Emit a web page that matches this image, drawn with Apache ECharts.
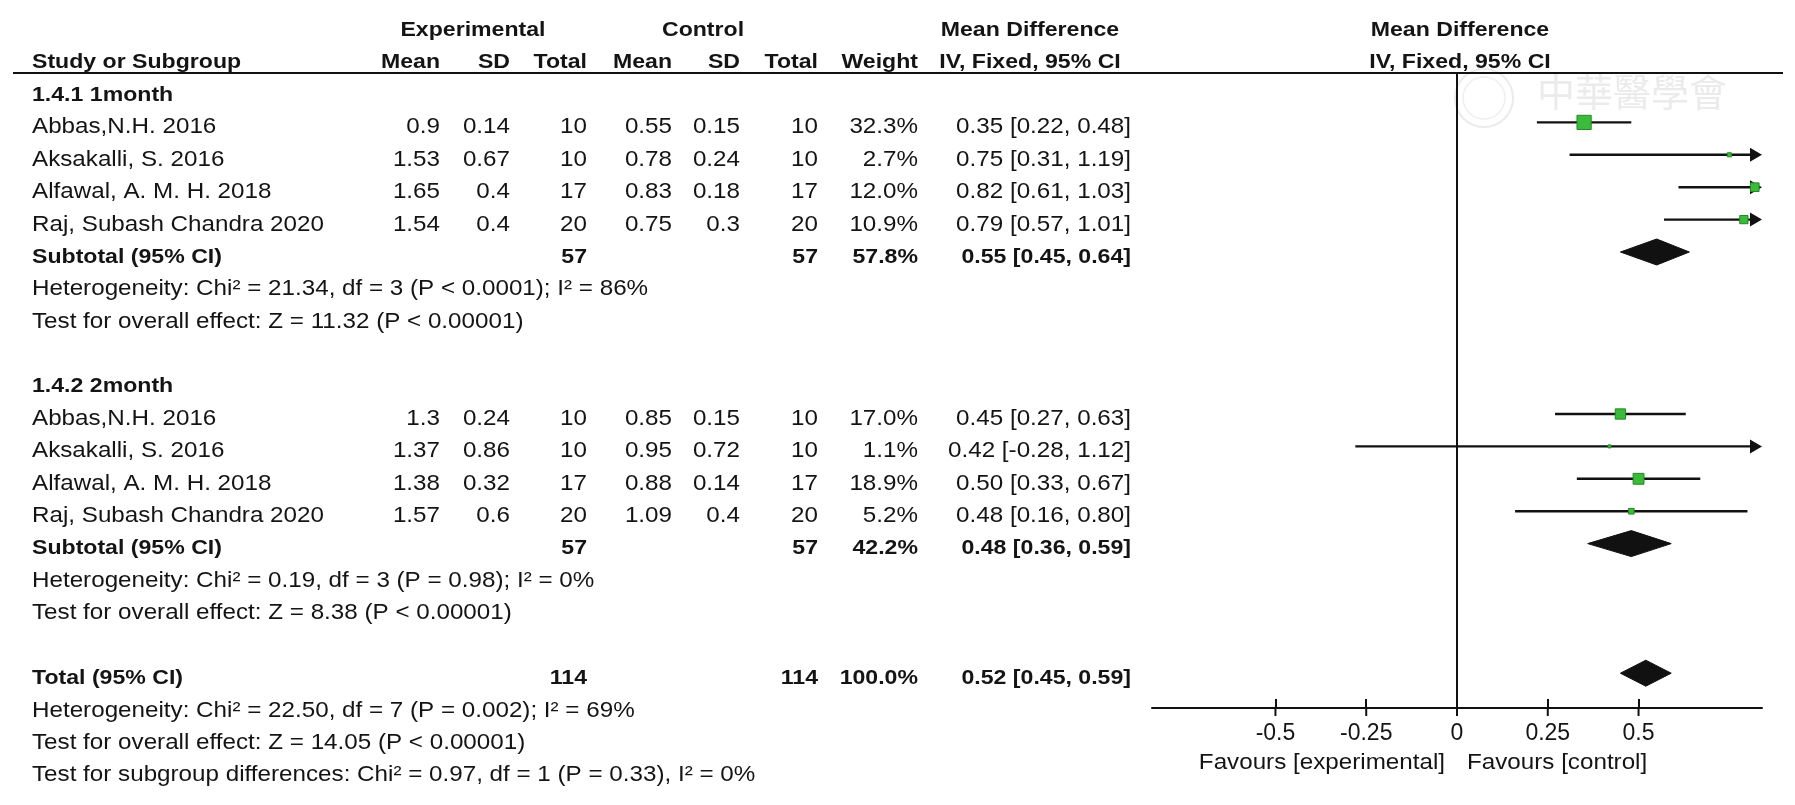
<!DOCTYPE html>
<html><head><meta charset="utf-8">
<script src="https://cdn.jsdelivr.net/npm/echarts@6/dist/echarts.min.js"></script>
<style>html,body{margin:0;padding:0;background:#fff}#c{width:1795px;height:805px}</style>
</head><body><div id="c"></div>
<script>
// ---------- data ----------
const studyNames = ['Abbas,N.H. 2016', 'Aksakalli, S. 2016', 'Alfawal, A. M. H. 2018', 'Raj, Subash Chandra 2020'];
const groupLabels = ['1.4.1 1month', '1.4.2 2month'];

const g1ExpMean = [0.9, 1.53, 1.65, 1.54];
const g1ExpSD   = [0.14, 0.67, 0.4, 0.4];
const g1ExpN    = [10, 10, 17, 20];
const g1CtlMean = [0.55, 0.78, 0.83, 0.75];
const g1CtlSD   = [0.15, 0.24, 0.18, 0.3];
const g1CtlN    = [10, 10, 17, 20];
const g1Weight  = [32.3, 2.7, 12.0, 10.9];
const g1MD      = [0.35, 0.75, 0.82, 0.79];
const g1Lo      = [0.22, 0.31, 0.61, 0.57];
const g1Hi      = [0.48, 1.19, 1.03, 1.01];
const g1Sub     = { expN: 57, ctlN: 57, weight: 57.8, md: 0.55, lo: 0.45, hi: 0.64 };

const g2ExpMean = [1.3, 1.37, 1.38, 1.57];
const g2ExpSD   = [0.24, 0.86, 0.32, 0.6];
const g2ExpN    = [10, 10, 17, 20];
const g2CtlMean = [0.85, 0.95, 0.88, 1.09];
const g2CtlSD   = [0.15, 0.72, 0.14, 0.4];
const g2CtlN    = [10, 10, 17, 20];
const g2Weight  = [17.0, 1.1, 18.9, 5.2];
const g2MD      = [0.45, 0.42, 0.50, 0.48];
const g2Lo      = [0.27, -0.28, 0.33, 0.16];
const g2Hi      = [0.63, 1.12, 0.67, 0.80];
const g2Sub     = { expN: 57, ctlN: 57, weight: 42.2, md: 0.48, lo: 0.36, hi: 0.59 };

const totalRow  = { expN: 114, ctlN: 114, weight: 100.0, md: 0.52, lo: 0.45, hi: 0.59 };

const g1Het  = 'Heterogeneity: Chi² = 21.34, df = 3 (P < 0.0001); I² = 86%';
const g1Test = 'Test for overall effect: Z = 11.32 (P < 0.00001)';
const g2Het  = 'Heterogeneity: Chi² = 0.19, df = 3 (P = 0.98); I² = 0%';
const g2Test = 'Test for overall effect: Z = 8.38 (P < 0.00001)';
const totHet  = 'Heterogeneity: Chi² = 22.50, df = 7 (P = 0.002); I² = 69%';
const totTest = 'Test for overall effect: Z = 14.05 (P < 0.00001)';
const subgroupTest = 'Test for subgroup differences: Chi² = 0.97, df = 1 (P = 0.33), I² = 0%';

const tickValues = [-0.5, -0.25, 0, 0.25, 0.5];
const tickLabels = ['-0.5', '-0.25', '0', '0.25', '0.5'];
const favoursLeft = 'Favours [experimental]';
const favoursRight = 'Favours [control]';

// ---------- layout ----------
const X_MIN = -0.84, X_MAX = 0.84;
const Y_MIN = -0.5247, Y_MAX = 19.074;
const FONT = '"Liberation Sans", Arial, sans-serif';
const SX = 1.1;
const COL = { name: 32, expMean: 440, expSD: 510, expN: 587, ctlMean: 672, ctlSD: 740, ctlN: 818, weight: 918, ci: 1131,
  expHead: 473, ctlHead: 703, mdHead: 1030, plotHead: 1460 };
const TEXT_DY = 5;
const INK = '#141414';

const fmtCI = (m, l, h) => m.toFixed(2) + ' [' + l.toFixed(2) + ', ' + h.toFixed(2) + ']';
const fmtW = w => w.toFixed(1) + '%';

// ---------- table cells ----------
const cells = [];
function add(row, x, text, align, bold) { cells.push({ row, x, text: String(text), align, bold: !!bold }); }

add(-2, COL.expHead, 'Experimental', 'center', true);
add(-2, COL.ctlHead, 'Control', 'center', true);
add(-2, COL.mdHead, 'Mean Difference', 'center', true);
add(-2, COL.plotHead, 'Mean Difference', 'center', true);
add(-1, COL.name, 'Study or Subgroup', 'left', true);
add(-1, COL.expMean, 'Mean', 'right', true);
add(-1, COL.expSD, 'SD', 'right', true);
add(-1, COL.expN, 'Total', 'right', true);
add(-1, COL.ctlMean, 'Mean', 'right', true);
add(-1, COL.ctlSD, 'SD', 'right', true);
add(-1, COL.ctlN, 'Total', 'right', true);
add(-1, COL.weight, 'Weight', 'right', true);
add(-1, COL.mdHead, 'IV, Fixed, 95% CI', 'center', true);
add(-1, COL.plotHead, 'IV, Fixed, 95% CI', 'center', true);

const groups = [
  { base: 0, label: groupLabels[0], eM: g1ExpMean, eS: g1ExpSD, eN: g1ExpN, cM: g1CtlMean, cS: g1CtlSD, cN: g1CtlN,
    w: g1Weight, md: g1MD, lo: g1Lo, hi: g1Hi, sub: g1Sub, het: g1Het, test: g1Test },
  { base: 9, label: groupLabels[1], eM: g2ExpMean, eS: g2ExpSD, eN: g2ExpN, cM: g2CtlMean, cS: g2CtlSD, cN: g2CtlN,
    w: g2Weight, md: g2MD, lo: g2Lo, hi: g2Hi, sub: g2Sub, het: g2Het, test: g2Test }
];
const forestData = [];
groups.forEach(g => {
  add(g.base, COL.name, g.label, 'left', true);
  studyNames.forEach((n, j) => {
    const r = g.base + 1 + j;
    add(r, COL.name, n, 'left');
    add(r, COL.expMean, g.eM[j], 'right');
    add(r, COL.expSD, g.eS[j], 'right');
    add(r, COL.expN, g.eN[j], 'right');
    add(r, COL.ctlMean, g.cM[j], 'right');
    add(r, COL.ctlSD, g.cS[j], 'right');
    add(r, COL.ctlN, g.cN[j], 'right');
    add(r, COL.weight, fmtW(g.w[j]), 'right');
    add(r, COL.ci, fmtCI(g.md[j], g.lo[j], g.hi[j]), 'right');
    forestData.push([g.md[j], g.lo[j], g.hi[j], r, g.w[j], 0]);
  });
  const rs = g.base + 5;
  add(rs, COL.name, 'Subtotal (95% CI)', 'left', true);
  add(rs, COL.expN, g.sub.expN, 'right', true);
  add(rs, COL.ctlN, g.sub.ctlN, 'right', true);
  add(rs, COL.weight, fmtW(g.sub.weight), 'right', true);
  add(rs, COL.ci, fmtCI(g.sub.md, g.sub.lo, g.sub.hi), 'right', true);
  forestData.push([g.sub.md, g.sub.lo, g.sub.hi, rs, 0, 1]);
  add(g.base + 6, COL.name, g.het, 'left');
  add(g.base + 7, COL.name, g.test, 'left');
});
add(18, COL.name, 'Total (95% CI)', 'left', true);
add(18, COL.expN, totalRow.expN, 'right', true);
add(18, COL.ctlN, totalRow.ctlN, 'right', true);
add(18, COL.weight, fmtW(totalRow.weight), 'right', true);
add(18, COL.ci, fmtCI(totalRow.md, totalRow.lo, totalRow.hi), 'right', true);
forestData.push([totalRow.md, totalRow.lo, totalRow.hi, 18, 0, 1]);
add(19, COL.name, totHet, 'left');
add(20, COL.name, totTest, 'left');
add(21, COL.name, subgroupTest, 'left');

// ---------- chart ----------
const chart = echarts.init(document.getElementById('c'), null, { renderer: 'canvas' });

function renderForest(params, api) {
  const md = api.value(0), lo = api.value(1), hi = api.value(2), row = api.value(3), w = api.value(4), kind = api.value(5);
  const y = api.coord([0, row])[1];
  const pMd = api.coord([md, row])[0];
  const pLo = api.coord([lo, row])[0];
  const pHi = api.coord([hi, row])[0];
  const pMin = api.coord([X_MIN, row])[0];
  const pMax = api.coord([X_MAX, row])[0];
  const children = [];
  if (kind === 1) {
    const h = 13;
    children.push({ type: 'polygon', shape: { points: [[pLo, y], [pMd, y - h], [pHi, y], [pMd, y + h]] },
      style: { fill: '#111', stroke: '#111', lineWidth: 1 } });
    return { type: 'group', children };
  }
  const arrowR = hi > X_MAX, arrowL = lo < X_MIN;
  const x1 = arrowL ? pMin + 10 : pLo;
  const x2 = arrowR ? pMax - 10 : pHi;
  children.push({ type: 'line', shape: { x1, y1: y, x2, y2: y }, style: { stroke: '#111', lineWidth: 2.4 } });
  if (arrowR) children.push({ type: 'polygon', shape: { points: [[pMax, y], [pMax - 12, y - 7], [pMax - 12, y + 7]] }, style: { fill: '#111' } });
  if (arrowL) children.push({ type: 'polygon', shape: { points: [[pMin, y], [pMin + 12, y - 7], [pMin + 12, y + 7]] }, style: { fill: '#111' } });
  const s = Math.max(3, 2.5 * Math.sqrt(w));
  children.push({ type: 'rect', shape: { x: pMd - s / 2, y: y - s / 2, width: s, height: s },
    style: { fill: '#3cba3c', stroke: '#228a22', lineWidth: 1 } });
  return { type: 'group', children };
}

// lower half of the crossing tick marks, placed with the axis scale
function renderTickDown(params, api) {
  const p = api.coord([api.value(0), Y_MAX]);
  return { type: 'line', shape: { x1: p[0], y1: p[1], x2: p[0], y2: p[1] + 8 }, style: { stroke: '#111', lineWidth: 2 } };
}

function renderCell(params, api) {
  const c = cells[api.value(2)];
  const y = api.coord([0, c.row])[1] + TEXT_DY;
  return {
    type: 'text', x: c.x, y: y, scaleX: SX,
    style: { text: c.text, x: 0, y: 0, fontSize: c.bold ? 21 : 22, fontWeight: c.bold ? 'bold' : 'normal',
      fontFamily: FONT, fill: INK, align: c.align, verticalAlign: 'middle' }
  };
}

const option = {
  backgroundColor: '#fff',
  animation: false,
  grid: { left: 1152, right: 33, top: 73, bottom: 97, containLabel: false },
  xAxis: {
    type: 'value', min: X_MIN, max: X_MAX, position: 'bottom',
    axisLine: { show: true, onZero: false, lineStyle: { color: '#111', width: 2 } },
    axisTick: { show: true, inside: true, length: 9, lineStyle: { color: '#111', width: 2 }, customValues: tickValues },
    axisLabel: { show: true, customValues: tickValues, margin: 14, color: INK, fontSize: 23, fontFamily: FONT,
      formatter: v => { const i = tickValues.indexOf(v); return i >= 0 ? tickLabels[i] : ''; } },
    splitLine: { show: false }
  },
  yAxis: { type: 'value', inverse: true, min: Y_MIN, max: Y_MAX, show: false },
  graphic: [
    { type: 'line', shape: { x1: 13, y1: 73, x2: 1783, y2: 73 }, style: { stroke: '#111', lineWidth: 2 }, z: 10 },
    { type: 'circle', shape: { cx: 1484, cy: 98, r: 29 }, style: { fill: 'none', stroke: '#ebebeb', lineWidth: 2 }, z: 0 },
    { type: 'circle', shape: { cx: 1484, cy: 98, r: 21 }, style: { fill: 'none', stroke: '#f0f0f0', lineWidth: 1.5 }, z: 0 },
    { type: 'text', x: 1537, y: 92, style: { text: '中華醫學會', fontSize: 38, fontFamily: '"Noto Sans CJK TC", sans-serif',
      fill: '#ebebeb', verticalAlign: 'middle', letterSpacing: 4 }, z: 0 },
    { type: 'text', x: 1445, y: 763, scaleX: SX, style: { text: favoursLeft, fontSize: 22, fontFamily: FONT, fill: INK, align: 'right', verticalAlign: 'middle' } },
    { type: 'text', x: 1467, y: 763, scaleX: SX, style: { text: favoursRight, fontSize: 22, fontFamily: FONT, fill: INK, align: 'left', verticalAlign: 'middle' } }
  ],
  series: [
    { type: 'custom', name: 'forest', clip: false, z: 5,
      renderItem: renderForest, data: forestData,
      markLine: { silent: true, symbol: 'none', label: { show: false }, animation: false,
        lineStyle: { color: '#111', width: 2, type: 'solid' }, data: [{ xAxis: 0 }] } },
    { type: 'custom', name: 'ticks', clip: false, z: 5,
      renderItem: renderTickDown, data: tickValues.map(v => [v]) },
    { type: 'custom', name: 'table', clip: false, z: 6,
      renderItem: renderCell, data: cells.map((c, i) => [0, c.row, i]) }
  ]
};
chart.setOption(option);
</script>
</body></html>
